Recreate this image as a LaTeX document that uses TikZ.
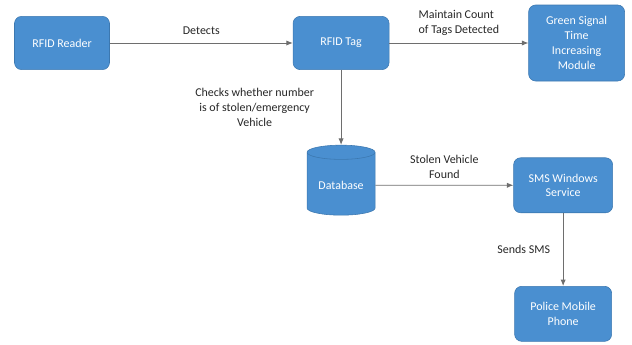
\documentclass[tikz,border=0pt]{standalone}
\usepackage{fontspec}
\setmainfont{Carlito}
\usepackage{xcolor}
\usepackage{tikz}
\usetikzlibrary{arrows.meta,positioning,shapes.geometric}

\definecolor{boxblue}{HTML}{4A8FD0}
\definecolor{boxline}{HTML}{3C78B0}
\definecolor{linegray}{HTML}{6E6E6E}

\begin{document}
\begin{tikzpicture}[
  font=\fontsize{8.5}{10.5}\selectfont,
  box/.style={draw=boxline, fill=boxblue, text=white, rounded corners=5pt, align=center, minimum width=2.4cm, minimum height=1.33cm, inner sep=2pt},
  dbase/.style={cylinder, shape border rotate=90, aspect=0.28, draw=boxline, fill=boxblue, text=white, minimum width=1.7cm, minimum height=1.75cm, inner sep=2pt},
  arrow/.style={-{Latex[length=1.6mm,width=1.3mm]}, draw=linegray, line width=0.6pt},
  lbl/.style={text=black!85, align=center}
]
\useasboundingbox (0,0) rectangle (15.8,-8.6);
\node[box, minimum width=2.375cm] (reader) at (1.55,-1.075) {RFID Reader};
\node[box, right=4.575cm of reader] (tag) {RFID Tag};
\node[box, right=3.475cm of tag, minimum height=1.9cm] (green) {Green Signal\\Time\\Increasing\\Module};
\node[dbase, below=1.875cm of tag] (db) {Database};
\node[box, right=3.45cm of db, minimum width=2.475cm, minimum height=1.375cm] (sms) {SMS Windows\\Service};
\node[box, below=1.825cm of sms, minimum width=2.425cm, minimum height=1.375cm] (police) {Police Mobile\\Phone};
\draw[arrow] (reader) -- node[lbl, above=2pt]{Detects} (tag);
\draw[arrow] (tag) -- node[lbl, above=2pt, align=left]{Maintain Count\\of Tags Detected} (green);
\draw[arrow] (tag) -- node[lbl, left=0.55cm]{Checks whether number\\is of stolen/emergency\\Vehicle} (db);
\draw[arrow] (db) -- node[lbl, above=1pt]{Stolen Vehicle\\Found} (sms);
\draw[arrow] (sms) -- node[lbl, left=0.2cm]{Sends SMS} (police);
\end{tikzpicture}
\end{document}
